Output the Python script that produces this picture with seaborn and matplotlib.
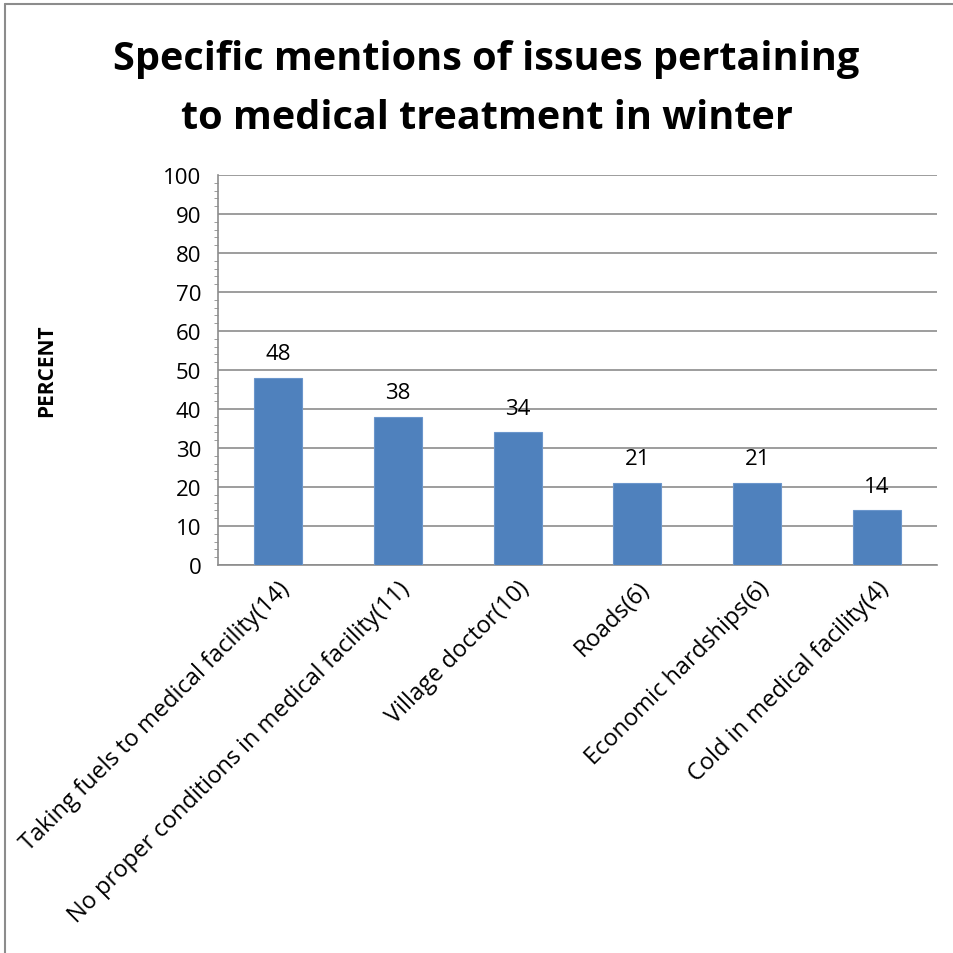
import matplotlib
matplotlib.use("Agg")
import matplotlib.pyplot as plt
import matplotlib.lines as mlines
import seaborn as sns
import pandas as pd
from matplotlib.ticker import MultipleLocator

categories = ["Taking fuels to medical facility(14)",
              "No proper conditions in medical facility(11)",
              "Village doctor(10)",
              "Roads(6)",
              "Economic hardships(6)",
              "Cold in medical facility(4)"]
percent = [48, 38, 34, 21, 21, 14]

df = pd.DataFrame({"issue": categories, "percent": percent})

sns.set_style("white")
plt.rcParams['font.family'] = ['Open Sans', 'DejaVu Sans']
plt.rcParams['text.color'] = 'black'
plt.rcParams['axes.labelcolor'] = 'black'
plt.rcParams['xtick.color'] = 'black'
plt.rcParams['ytick.color'] = 'black'

fig = plt.figure(figsize=(9.54, 9.54), dpi=100)
ax = fig.add_axes([218/954, 1 - 566/954, 719/954, 390/954])

sns.barplot(data=df, x="issue", y="percent", color="#4F81BD", width=0.4,
            saturation=1, ax=ax, edgecolor="#6b96cc", linewidth=0.8, zorder=3)

ax.set_ylim(0, 100)
ax.set_xlim(-0.5, len(categories) - 0.5)
ax.yaxis.set_major_locator(MultipleLocator(10))
ax.yaxis.set_minor_locator(MultipleLocator(2))
ax.grid(axis="y", which="major", color="#8c8c8c", linewidth=1.2, zorder=0)
ax.tick_params(axis="y", which="major", length=6, color="#8c8c8c", labelsize=16, pad=6)
ax.tick_params(axis="y", which="minor", length=3, color="#8c8c8c", left=True)
ax.tick_params(axis="x", length=0, labelsize=17, pad=8)

for side in ["top", "right"]:
    ax.spines[side].set_visible(False)
for side in ["left", "bottom"]:
    ax.spines[side].set_color("#8c8c8c")
    ax.spines[side].set_linewidth(1.2)

for c in ax.containers:
    ax.bar_label(c, fmt="%d", padding=10, fontsize=16)

plt.setp(ax.get_xticklabels(), rotation=45, ha="right", rotation_mode="anchor")
ax.set_xlabel("")
ax.set_ylabel("PERCENT", fontsize=15, fontweight="bold")
ax.yaxis.set_label_coords(-(218 - 57) / 719, 0.5)

fig.text(0.51, 1 - 89/954, "Specific mentions of issues pertaining\nto medical treatment in winter",
         ha="center", va="center", fontsize=28.5, fontweight="bold", linespacing=1.65)

fig.lines.append(mlines.Line2D([5/954, 5/954], [0, 1 - 5/954], transform=fig.transFigure,
                               color="#8c8c8c", linewidth=1.5))
fig.lines.append(mlines.Line2D([5/954, 1], [1 - 5/954, 1 - 5/954], transform=fig.transFigure,
                               color="#8c8c8c", linewidth=1.5))

fig.savefig("out.png", dpi=100)
